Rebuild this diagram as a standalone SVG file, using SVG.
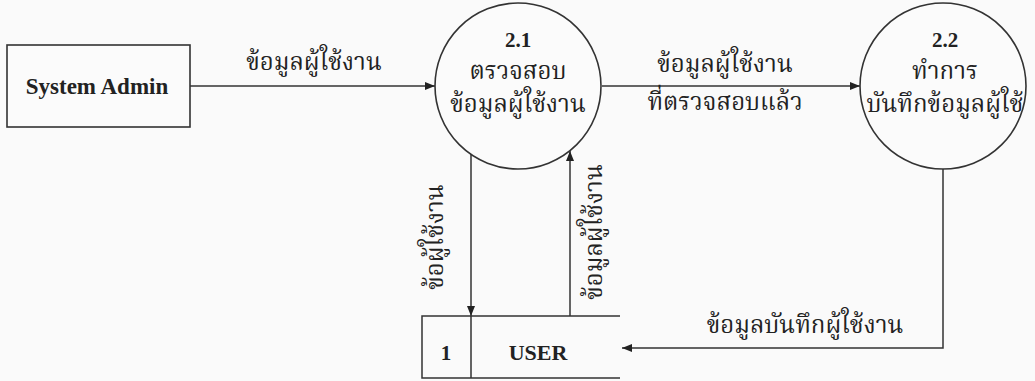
<svg xmlns="http://www.w3.org/2000/svg" width="1035" height="381" viewBox="0 0 1035 381">
<style>
.shape{fill:#fbfbfb;stroke:#333;stroke-width:1.6}
.ln{fill:none;stroke:#333;stroke-width:1.5}
.t{font-family:"Liberation Serif","Noto Serif Thai","Noto Sans Thai","Noto Sans",serif;fill:#222;font-size:24px;text-anchor:middle}
.b{font-weight:bold;font-size:21px}
</style>
<defs>
<marker id="arr" viewBox="0 0 10 8" refX="10" refY="4" markerWidth="10" markerHeight="8" markerUnits="userSpaceOnUse" orient="auto">
<path d="M0,0 L10,4 L0,8 Z" fill="#222"/>
</marker>
</defs>
<rect width="1035" height="381" fill="#fafafa"/>
<g id="connectors">
<line class="ln" x1="190" y1="86" x2="435" y2="86" marker-end="url(#arr)"/>
<line class="ln" x1="602" y1="86" x2="860" y2="86" marker-end="url(#arr)"/>
<line class="ln" x1="471" y1="154" x2="471" y2="316" marker-end="url(#arr)"/>
<line class="ln" x1="570" y1="316" x2="570" y2="151" marker-end="url(#arr)"/>
<polyline class="ln" points="943,169 943,348 622,348" marker-end="url(#arr)"/>
<text class="t" x="314" y="70">ข้อมูลผู้ใช้งาน</text>
<text class="t" x="725" y="72">ข้อมูลผู้ใช้งาน</text>
<text class="t" x="725" y="110">ที่ตรวจสอบแล้ว</text>
<text class="t" x="805" y="333">ข้อมูลบันทึกผู้ใช้งาน</text>
<text class="t" transform="translate(443,237) rotate(-90)">ข้อผู้ใช้งาน</text>
<text class="t" transform="translate(602,232) rotate(-90)">ข้อมูลผู้ใช้งาน</text>
</g>
<g id="system-admin">
<rect class="shape" x="7" y="45" width="183" height="82"/>
<text class="t b" x="97" y="94" style="font-size:23px">System Admin</text>
</g>
<g id="p21">
<circle class="shape" cx="518" cy="86" r="83"/>
<text class="t b" x="518" y="47">2.1</text>
<text class="t" x="518" y="79">ตรวจสอบ</text>
<text class="t" x="518" y="112">ข้อมูลผู้ใช้งาน</text>
</g>
<g id="p22">
<circle class="shape" cx="943" cy="86" r="83"/>
<text class="t b" x="945" y="47">2.2</text>
<text class="t" x="945" y="79">ทำการ</text>
<text class="t" x="945" y="112">บันทึกข้อมูลผู้ใช้</text>
</g>
<g id="user-store">
<path class="ln" d="M620,316 H422 V378 H620 M471,316 V378"/>
<text class="t b" x="446" y="360">1</text>
<text class="t b" x="538" y="360" style="font-size:22px">USER</text>
</g>
</svg>
